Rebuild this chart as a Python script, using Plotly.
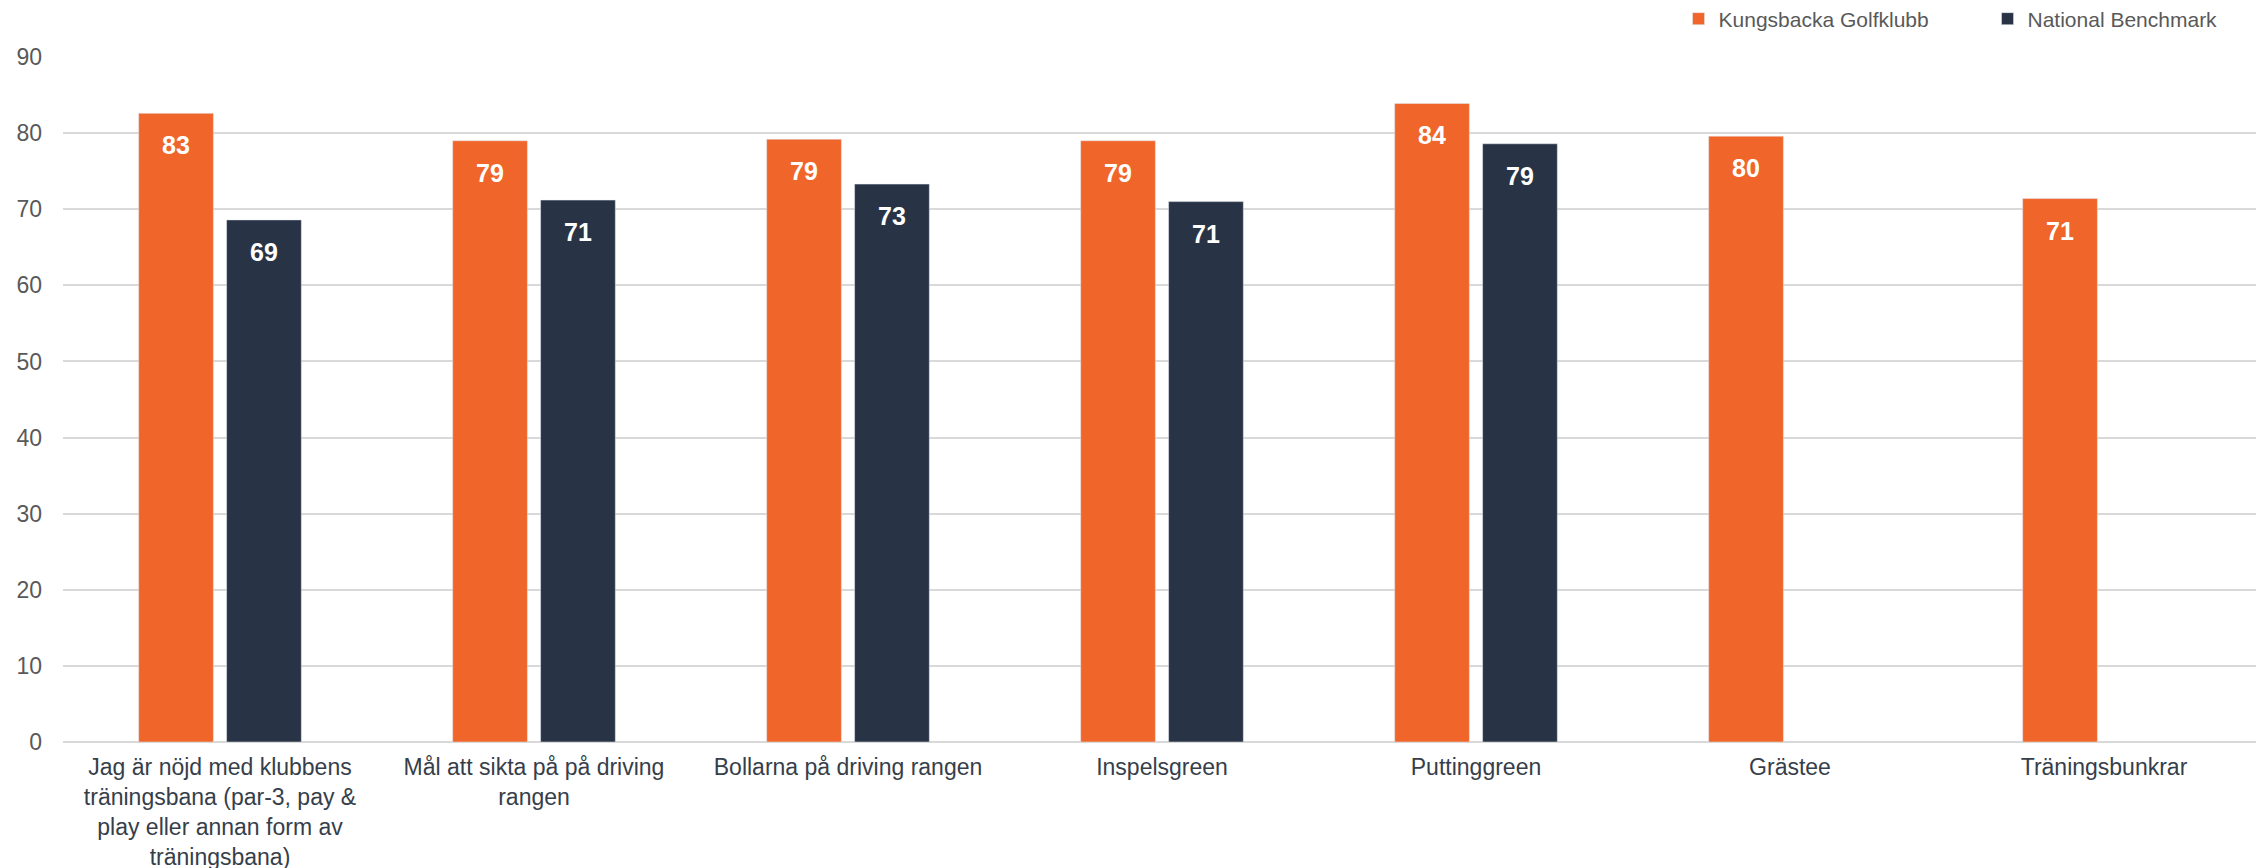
import plotly.graph_objs as go

categories = [
    'Jag är nöjd med klubbens<br>träningsbana (par-3, pay &<br>play eller annan form av<br>träningsbana)',
    'Mål att sikta på på driving<br>rangen',
    'Bollarna på driving rangen',
    'Inspelsgreen',
    'Puttinggreen',
    'Grästee',
    'Träningsbunkrar',
]
klubb_values = [82.6, 79.0, 79.2, 79.0, 83.9, 79.6, 71.4]
benchmark_values = [68.6, 71.2, 73.3, 71.0, 78.6, None, None]
y_ticks = [0, 10, 20, 30, 40, 50, 60, 70, 80, 90]

ORANGE = '#F06529'
NAVY = '#283445'
FONT = 'Liberation Sans, Arial, sans-serif'

# the page body adds an 8px margin, so the figure is offset by that much
W, H = 2264, 868
M_L, M_R, M_T, M_B = 55, 11, 49, 134
BARGAP = 0.44

fig = go.Figure()

fig.add_trace(go.Bar(
    x=categories,
    y=klubb_values,
    name='Kungsbacka Golfklubb',
    marker=dict(color=ORANGE),
    hovertemplate='%{y:.0f}<extra></extra>',
))

fig.add_trace(go.Bar(
    x=categories,
    y=benchmark_values,
    name='National Benchmark',
    marker=dict(color=NAVY),
    hovertemplate='%{y:.0f}<extra></extra>',
))

# value labels inside the top of each bar
cat_w = (W - M_L - M_R) / len(categories)
slot = (1 - BARGAP) * cat_w / 2
for vals, shift in [(klubb_values, -slot / 2), (benchmark_values, slot / 2)]:
    for cat, v in zip(categories, vals):
        if v is None:
            continue
        fig.add_annotation(
            x=cat, y=v,
            text=f'<b>{v:.0f}</b>',
            showarrow=False,
            xshift=shift,
            yshift=-32,
            yanchor='middle',
            font=dict(color='white', size=25, family=FONT),
        )

fig.update_layout(
    width=W,
    height=H,
    barmode='group',
    bargap=BARGAP,
    bargroupgap=0.15,
    plot_bgcolor='white',
    paper_bgcolor='white',
    font=dict(family=FONT, color='#595959', size=22),
    margin=dict(l=M_L, r=M_R, t=M_T, b=M_B, autoexpand=False),
    legend=dict(
        orientation='h',
        x=0.735,
        xanchor='left',
        yref='container',
        y=1 - 11 / H,
        yanchor='middle',
        font=dict(size=21, color='#595959'),
        entrywidth=264,
        traceorder='normal',
    ),
)

fig.update_xaxes(
    tickfont=dict(size=23, color='#363E4A'),
    showgrid=False,
    ticks='',
    automargin=False,
    ticklabelstandoff=9,
)

fig.update_yaxes(
    range=[0, 90],
    tickvals=y_ticks,
    tickfont=dict(size=23, color='#595959'),
    gridcolor='#D9D9D9',
    gridwidth=1.5,
    zeroline=True,
    zerolinecolor='#D9D9D9',
    zerolinewidth=2,
    ticks='',
    automargin=False,
    ticklabelstandoff=20,
)

fig.write_html('out.html')
